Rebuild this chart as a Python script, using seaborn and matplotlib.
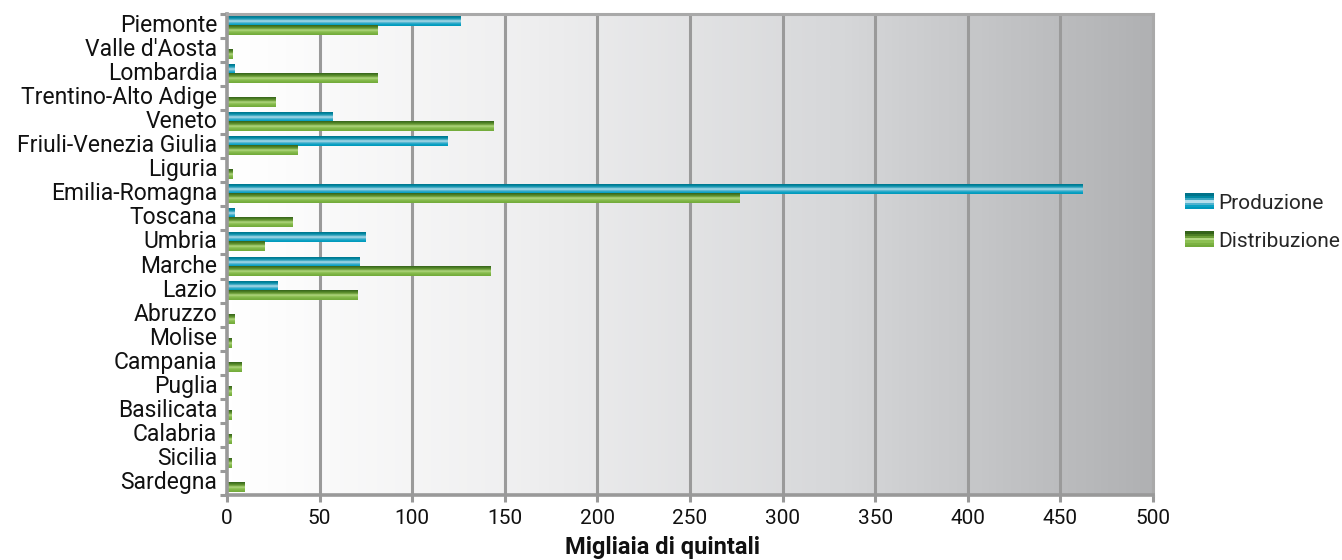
import numpy as np
import pandas as pd
import matplotlib
matplotlib.use("Agg")
import matplotlib.pyplot as plt
import matplotlib.transforms as mtransforms
from matplotlib.colors import LinearSegmentedColormap
from matplotlib.patches import Rectangle
from matplotlib.legend_handler import HandlerBase
import seaborn as sns

regioni = ["Piemonte", "Valle d'Aosta", "Lombardia", "Trentino-Alto Adige", "Veneto",
           "Friuli-Venezia Giulia", "Liguria", "Emilia-Romagna", "Toscana", "Umbria",
           "Marche", "Lazio", "Abruzzo", "Molise", "Campania", "Puglia", "Basilicata",
           "Calabria", "Sicilia", "Sardegna"]
produzione = [126.3, 0, 4.3, 0, 56.7, 119.3, 0, 462.2, 3.8, 75.0,
              71.3, 27.0, 0, 0, 0, 0, 0, 0, 0, 0]
distribuzione = [81.0, 2.7, 81.5, 26.0, 144.0, 38.3, 3.2, 276.5, 35.6, 20.5,
                 142.5, 70.2, 4.3, 2.2, 7.6, 2.2, 2.2, 2.2, 2.2, 9.7]
serie = ["Produzione", "Distribuzione"]
x_ticks = [0, 50, 100, 150, 200, 250, 300, 350, 400, 450, 500]

df = pd.DataFrame({
    "Regione": regioni * 2,
    "Valore": produzione + distribuzione,
    "Serie": [serie[0]] * len(regioni) + [serie[1]] * len(regioni),
})

# vertical stripe palettes for the glossy bars (top -> bottom)
blue_stops = ["#00738a", "#0089a3", "#3aa6c0", "#b5dfec", "#4fb3cf", "#0aa2c4", "#0097ba"]
green_stops = ["#35631a", "#4d7f25", "#6c9e38", "#b3d883", "#8cc052", "#7cb243", "#72aa3a"]
cmaps = {serie[0]: LinearSegmentedColormap.from_list("blu", blue_stops),
         serie[1]: LinearSegmentedColormap.from_list("verde", green_stops)}
mid_colors = {serie[0]: "#1a9cbb", serie[1]: "#6aa336"}

font = ["Roboto", "DejaVu Sans"]
sns.set_theme(style="white")
plt.rcParams["font.family"] = font

fig = plt.figure(figsize=(13.42, 5.6), dpi=100)
ax = fig.add_axes([227 / 1342, 1 - 495 / 560, (1153 - 227) / 1342, (495 - 14) / 560])

sns.barplot(data=df, y="Regione", x="Valore", hue="Serie", order=regioni,
            hue_order=serie, palette=mid_colors, orient="h", width=0.75,
            ax=ax, legend=False, saturation=1)

ax.set_xlim(0, 500)
ax.set_ylim(len(regioni) - 0.5, -0.5)

# background gradient white -> grey across the plot area
bg = np.linspace(0, 1, 256).reshape(1, -1)
bg_cmap = LinearSegmentedColormap.from_list("bg", ["#ffffff", "#eeeeef", "#d6d7d9", "#b0b1b3"])
ax.imshow(bg, cmap=bg_cmap, extent=(0, 500, len(regioni) - 0.5, -0.5),
          aspect="auto", zorder=0, interpolation="bilinear")

# paint every bar with its stripe gradient
grad = np.linspace(0, 1, 64).reshape(-1, 1)
n = len(regioni)
for i, p in enumerate(ax.patches):
    name = serie[0] if i < n else serie[1]
    w = p.get_width()
    if w <= 0:
        p.set_visible(False)
        continue
    y0 = p.get_y()
    h = p.get_height()
    ax.imshow(grad, cmap=cmaps[name], extent=(0, w, y0 + h, y0),
              aspect="auto", zorder=3, interpolation="bilinear")
    p.set_visible(False)

ax.set_xlim(0, 500)
ax.set_ylim(len(regioni) - 0.5, -0.5)

# vertical grid lines
for xv in x_ticks[1:-1]:
    ax.axvline(xv, color="#9a9a9a", lw=2.2, zorder=2)

for side in ["left", "bottom"]:
    ax.spines[side].set_color("#999999")
    ax.spines[side].set_linewidth(2.6)
ax.spines["top"].set_color("#a9a9a9")
ax.spines["top"].set_linewidth(2.2)
ax.spines["right"].set_color("#a9a9a9")
ax.spines["right"].set_linewidth(2.2)
for s in ax.spines.values():
    s.set_zorder(5)

ax.set_xticks(x_ticks)
ax.set_xticklabels([str(v) for v in x_ticks])
ax.set_yticks(range(n))
ax.set_yticklabels(regioni)
ax.set_yticks(np.arange(-0.5, n, 1.0), minor=True)
ax.tick_params(axis="y", which="major", length=0, pad=7, labelsize=16.5, labelcolor="#111111")
ax.tick_params(axis="y", which="minor", left=True, length=5, width=2.2, color="#999999")
ax.tick_params(axis="x", which="major", bottom=True, length=5, width=2.2, color="#999999",
               labelsize=15, labelcolor="#111111", pad=5)

# lift the region names slightly above the category centres
lift = mtransforms.ScaledTranslation(0, 3 / 100, fig.dpi_scale_trans)
for lbl in ax.get_yticklabels():
    lbl.set_transform(lbl.get_transform() + lift)

ax.set_ylabel("")
ax.set_xlabel("Migliaia di quintali", fontsize=17, fontweight="bold", color="#111111",
              labelpad=3)
ax.xaxis.set_label_coords(0.47, -0.085)


class StripeHandler(HandlerBase):
    def __init__(self, stops):
        super().__init__()
        self.stops = stops

    def create_artists(self, legend, orig_handle, xdescent, ydescent, width, height,
                       fontsize, trans):
        k = len(self.stops)
        arts = []
        for j, c in enumerate(self.stops):
            arts.append(Rectangle((-xdescent, -ydescent + height * (k - 1 - j) / k),
                                  width, height / k, facecolor=c, edgecolor="none",
                                  transform=trans))
        return arts


handles = [Rectangle((0, 0), 1, 1, color=mid_colors[s]) for s in serie]
fig.legend(handles, serie, loc="center left", bbox_to_anchor=(1166 / 1342, 1 - 222 / 560),
           frameon=False, fontsize=15, handlelength=1.4, handleheight=0.8,
           handletextpad=0.2, labelspacing=0.9,
           handler_map={handles[0]: StripeHandler(blue_stops),
                        handles[1]: StripeHandler(green_stops)})

fig.savefig("out.png", dpi=100)
